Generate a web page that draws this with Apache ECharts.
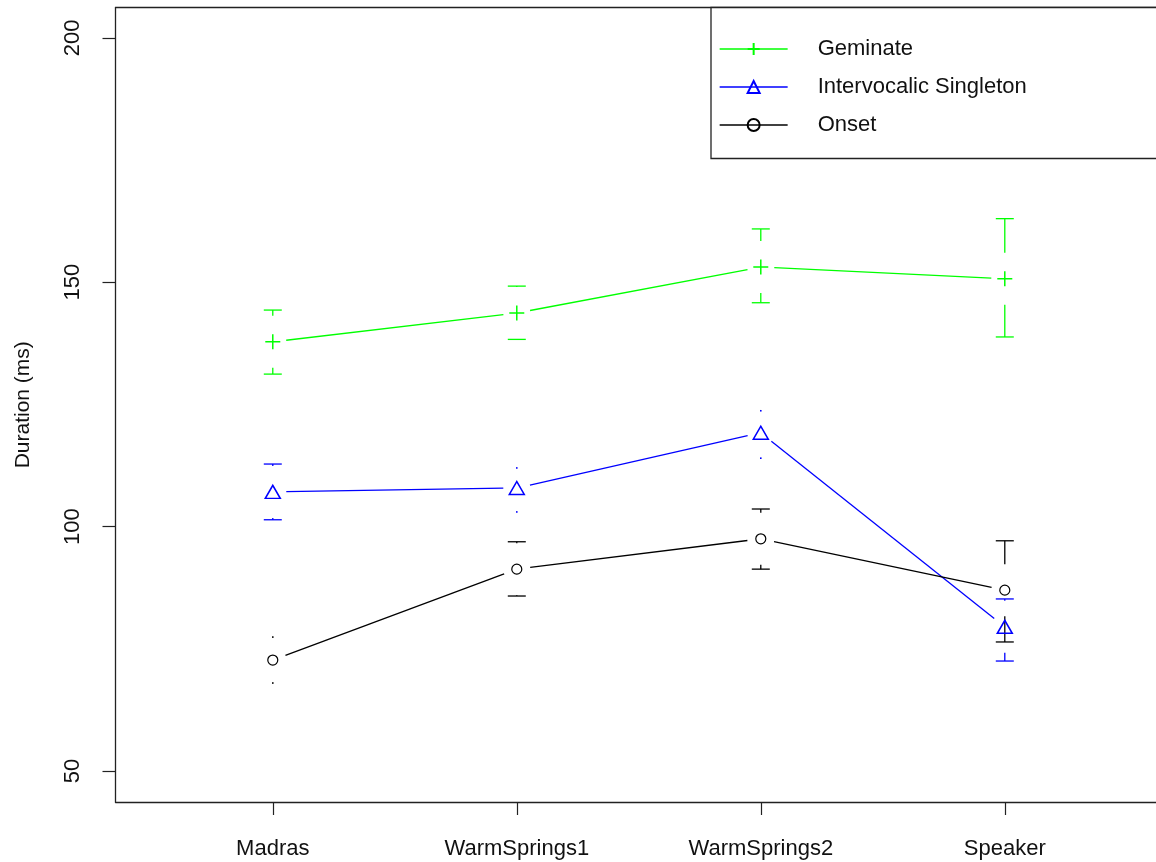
<!DOCTYPE html>
<html>
<head>
<meta charset="utf-8">
<title>Duration by speaker</title>
<script src="https://cdn.jsdelivr.net/npm/echarts@6/dist/echarts.min.js"></script>
<style>
  html, body { margin: 0; padding: 0; background: #fff; }
  #chart { width: 1156px; height: 862px; }
</style>
</head>
<body>
<div id="chart"></div>
<script>
// Speakers along the x axis
const categories = ['Madras', 'WarmSprings1', 'WarmSprings2', 'Speaker'];

// Mean durations (ms) with lower / upper interval limits
const geminateMean  = [137.8, 143.7, 153.1, 150.7];
const geminateLower = [131.2, 138.3, 145.8, 138.8];
const geminateUpper = [144.3, 149.2, 160.9, 163.0];

const singletonMean  = [107.1, 107.9, 119.2, 79.5];
const singletonLower = [101.4, 103.0, 114.0, 72.5];
const singletonUpper = [112.8, 112.0, 123.7, 85.2];

const onsetMean  = [72.7, 91.3, 97.5, 87.0];
const onsetLower = [68.0, 85.8, 91.3, 76.4];
const onsetUpper = [77.4, 96.9, 103.6, 97.1];

const yTicks = [50, 100, 150, 200];
const xTicks = [1, 2, 3, 4];

const groups = [
  { name: 'Geminate', color: '#00ff00', mean: geminateMean, lower: geminateLower, upper: geminateUpper,
    symbol: 'path://M0,-1 L0,1 M-1,0 L1,0', size: [15, 15] },
  { name: 'Intervocalic Singleton', color: '#0000ff', mean: singletonMean, lower: singletonLower, upper: singletonUpper,
    symbol: 'triangle', size: [15, 13] },
  { name: 'Onset', color: '#000000', mean: onsetMean, lower: onsetLower, upper: onsetUpper,
    symbol: 'circle', size: [10, 10] }
];

const FONT = '"Liberation Sans", Arial, sans-serif';
const LINE_GAP = 13.5;   // blank space left around each point on the connecting lines
const BAR_GAP = 26;      // blank space left around each point on the error bars
const CAP_HALF = 9;
const FRAME = '#222';

const series = [];

groups.forEach(g => {
  // connecting lines, broken around the points
  const segments = g.mean.slice(0, -1).map((v, i) => [xTicks[i], v, xTicks[i + 1], g.mean[i + 1]]);
  series.push({
    type: 'custom',
    name: g.name + ' lines',
    silent: true,
    z: 3,
    encode: { x: [0, 2], y: [1, 3] },
    data: segments,
    renderItem: function (params, api) {
      const a = api.coord([api.value(0), api.value(1)]);
      const b = api.coord([api.value(2), api.value(3)]);
      const dx = b[0] - a[0], dy = b[1] - a[1];
      const len = Math.sqrt(dx * dx + dy * dy);
      const ux = dx / len, uy = dy / len;
      return {
        type: 'line',
        shape: { x1: a[0] + ux * LINE_GAP, y1: a[1] + uy * LINE_GAP,
                 x2: b[0] - ux * LINE_GAP, y2: b[1] - uy * LINE_GAP },
        style: { stroke: g.color, lineWidth: 1.3 }
      };
    }
  });

  // error bars with a gap around the mean
  const bars = g.mean.map((v, i) => [xTicks[i], v, g.lower[i], g.upper[i]]);
  series.push({
    type: 'custom',
    name: g.name + ' bars',
    silent: true,
    z: 3,
    encode: { x: 0, y: [1, 2, 3] },
    data: bars,
    renderItem: function (params, api) {
      const c = api.coord([api.value(0), api.value(1)]);
      const lo = api.coord([api.value(0), api.value(2)]);
      const hi = api.coord([api.value(0), api.value(3)]);
      const style = { stroke: g.color, lineWidth: 1.3 };
      const children = [];
      [[hi[1], -1], [lo[1], 1]].forEach(([tipY, dir]) => {
        const dist = Math.abs(tipY - c[1]);
        if (dist > BAR_GAP) {
          children.push({ type: 'line', shape: { x1: c[0], y1: tipY, x2: c[0], y2: c[1] + dir * BAR_GAP }, style });
          children.push({ type: 'line', shape: { x1: c[0] - CAP_HALF, y1: tipY, x2: c[0] + CAP_HALF, y2: tipY }, style });
        } else {
          children.push({ type: 'rect', shape: { x: c[0] - 0.8, y: tipY - 0.8, width: 1.6, height: 1.6 },
                          style: { fill: g.color } });
        }
      });
      return { type: 'group', children };
    }
  });

  // point markers (also provide the legend entries)
  series.push({
    type: 'line',
    name: g.name,
    z: 4,
    data: g.mean.map((v, i) => [xTicks[i], v]),
    symbol: g.symbol,
    symbolSize: g.size,
    showSymbol: true,
    lineStyle: { color: g.color, width: 1.3, opacity: 0 },
    itemStyle: { color: 'none', borderColor: g.color, borderWidth: g.symbol === 'circle' ? 1.2 : 1.5 },
    emphasis: { disabled: true },
    silent: true
  });
});

const chart = echarts.init(document.getElementById('chart'), null, { renderer: 'canvas' });

chart.setOption({
  animation: false,
  backgroundColor: '#ffffff',
  grid: { left: 115.5, top: 7.5, right: 0, bottom: 60, show: false },
  xAxis: {
    type: 'value',
    min: 0.3554, max: 4.6197,
    splitLine: { show: false },
    axisLine: { show: true, onZero: false, lineStyle: { color: FRAME, width: 1.3 } },
    axisTick: { show: true, customValues: xTicks, length: 13, lineStyle: { color: FRAME, width: 1.2 } },
    axisLabel: {
      customValues: xTicks,
      formatter: v => categories[Math.round(v) - 1],
      margin: 36,
      fontFamily: FONT, fontSize: 22, color: '#111'
    }
  },
  yAxis: {
    type: 'value',
    min: 43.66, max: 206.2,
    name: 'Duration (ms)',
    nameLocation: 'middle',
    nameRotate: 90,
    nameGap: 82,
    nameTextStyle: { fontFamily: FONT, fontSize: 21, color: '#111' },
    splitLine: { show: false },
    axisLine: { show: true, onZero: false, lineStyle: { color: FRAME, width: 1.3 } },
    axisTick: { show: true, customValues: yTicks, length: 13, lineStyle: { color: FRAME, width: 1.2 } },
    axisLabel: {
      customValues: yTicks,
      rotate: 90,
      margin: 32,
      fontFamily: FONT, fontSize: 22, color: '#111'
    }
  },
  graphic: [
    {
      // top edge of the plot frame
      type: 'line',
      z: 1,
      shape: { x1: 115.5, y1: 7.5, x2: 1156, y2: 7.5 },
      style: { stroke: FRAME, lineWidth: 1.3 }
    },
    {
      // legend frame
      type: 'rect',
      z: 1,
      shape: { x: 711, y: 7.5, width: 500, height: 151 },
      style: { fill: '#ffffff', stroke: FRAME, lineWidth: 1.3 }
    }
  ],
  legend: {
    z: 10,
    orient: 'vertical',
    left: 719,
    top: 38,
    padding: 0,
    itemWidth: 68,
    itemHeight: 15,
    itemGap: 16,
    selectedMode: false,
    data: groups.map(g => g.name),
    lineStyle: { opacity: 1, width: 1.3 },
    textStyle: { fontFamily: FONT, fontSize: 22, color: '#111', padding: [0, 0, 0, 25] }
  },
  series: series
});
</script>
</body>
</html>
